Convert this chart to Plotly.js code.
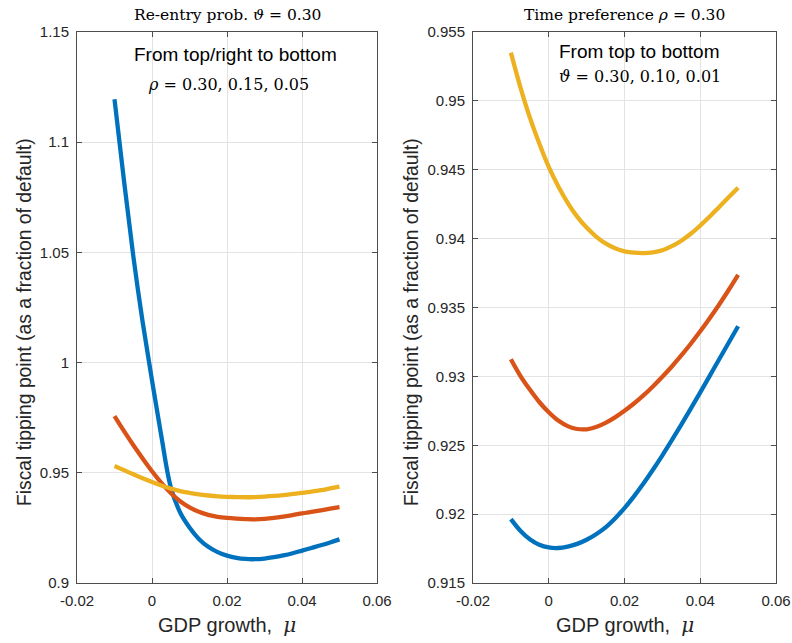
<!DOCTYPE html>
<html>
<head>
<meta charset="utf-8">
<script src="https://cdn.plot.ly/plotly-3.0.1.min.js"></script>
<style>html,body{margin:0;padding:0;background:#fff;}#chart{width:792px;height:643px;}</style>
</head>
<body>
<div id="chart"></div>
<script>
// ---- Data ----
const muGrid = [-0.01, -0.0075, -0.005, -0.0025, 0, 0.0025, 0.005, 0.0075, 0.01, 0.0125, 0.015, 0.0175, 0.02,
                0.0225, 0.025, 0.0275, 0.03, 0.0325, 0.035, 0.0375, 0.04, 0.0425, 0.045, 0.0475, 0.05];

// Left panel: re-entry prob. theta = 0.30, rho = 0.30 / 0.15 / 0.05
const leftBlue   = [1.1195, 1.083, 1.0485, 1.0185, 0.992, 0.9665, 0.9435, 0.932, 0.9252, 0.9200, 0.9164, 0.9140, 0.9124,
                    0.9114, 0.9109, 0.9108, 0.9111, 0.9117, 0.9125, 0.9135, 0.9147, 0.9159, 0.9171, 0.9184, 0.9198];
const leftRed    = [0.9757, 0.9690, 0.9626, 0.9565, 0.9507, 0.9454, 0.9408, 0.9371, 0.9343, 0.9323, 0.9309, 0.9300, 0.9295,
                    0.9292, 0.9290, 0.9289, 0.9291, 0.9295, 0.9301, 0.9308, 0.9316, 0.9323, 0.9330, 0.9337, 0.9344];
const leftYellow = [0.9531, 0.9512, 0.9493, 0.9475, 0.9458, 0.9442, 0.9428, 0.9417, 0.9409, 0.9402, 0.9397, 0.9393, 0.9391,
                    0.9390, 0.9389, 0.9390, 0.9392, 0.9395, 0.9399, 0.9404, 0.9409, 0.9415, 0.9421, 0.9429, 0.9437];

// Right panel: time preference rho = 0.30, theta = 0.30 / 0.10 / 0.01
const rightYellow = [0.9535, 0.9510, 0.9488, 0.9469, 0.9452, 0.9438, 0.9426, 0.9416, 0.9408, 0.94015, 0.93965, 0.9393, 0.93908,
                     0.93898, 0.93895, 0.9390, 0.93915, 0.93945, 0.93985, 0.94035, 0.94095, 0.9416, 0.9423, 0.9430, 0.9437];
const rightRed    = [0.93124, 0.93004, 0.92904, 0.92814, 0.92739, 0.92679, 0.92639, 0.92618, 0.92616, 0.92632, 0.92662, 0.92702, 0.9275,
                     0.92803, 0.92862, 0.92927, 0.92997, 0.93072, 0.93152, 0.93237, 0.93327, 0.93422, 0.93522, 0.93627, 0.93737];
const rightBlue   = [0.91964, 0.9188, 0.91818, 0.91778, 0.91758, 0.91754, 0.91764, 0.91784, 0.91814, 0.91854, 0.91904, 0.91969, 0.92044,
                     0.92129, 0.92222, 0.92322, 0.92427, 0.92537, 0.9265, 0.92766, 0.92884, 0.93004, 0.93124, 0.93244, 0.93364];

const xTickVals = [-0.02, 0, 0.02, 0.04, 0.06];
const xTickText = ['-0.02', '0', '0.02', '0.04', '0.06'];
const yLeftTickVals = [0.9, 0.95, 1, 1.05, 1.1, 1.15];
const yLeftTickText = ['0.9', '0.95', '1', '1.05', '1.1', '1.15'];
const yRightTickVals = [0.915, 0.92, 0.925, 0.93, 0.935, 0.94, 0.945, 0.95, 0.955];
const yRightTickText = ['0.915', '0.92', '0.925', '0.93', '0.935', '0.94', '0.945', '0.95', '0.955'];

// ---- Styling ----
const C_BLUE = '#0072BD', C_RED = '#D95319', C_YEL = '#EDB120';
const SANS = 'Liberation Sans, Arial, Helvetica, sans-serif';
const SERIF = 'DejaVu Serif, Liberation Serif, serif';
const W = 792, H = 643;
const px = v => v / W;
const py = v => 1 - v / H;

function line(x, y, color, xa, ya) {
  return {x: x, y: y, type: 'scatter', mode: 'lines', xaxis: xa, yaxis: ya,
          line: {color: color, width: 4.3, shape: 'spline', smoothing: 1}, hoverinfo: 'skip', showlegend: false};
}

const data = [
  line(muGrid, leftBlue, C_BLUE, 'x', 'y'),
  line(muGrid, leftRed, C_RED, 'x', 'y'),
  line(muGrid, leftYellow, C_YEL, 'x', 'y'),
  line(muGrid, rightBlue, C_BLUE, 'x2', 'y2'),
  line(muGrid, rightRed, C_RED, 'x2', 'y2'),
  line(muGrid, rightYellow, C_YEL, 'x2', 'y2')
];

const axisCommon = {
  showline: true, linecolor: '#4d4d4d', linewidth: 1, mirror: 'ticks',
  ticks: 'inside', ticklen: 5, tickwidth: 1, tickcolor: '#4d4d4d',
  showgrid: true, gridcolor: '#e3e3e3', gridwidth: 1, zeroline: false,
  tickfont: {family: SANS, size: 15, color: '#262626'}, fixedrange: true
};

const muText = 'GDP growth,&nbsp;&nbsp;<span style="font-family:DejaVu Serif, serif"><i>μ</i></span>';
const yTitle = 'Fiscal tipping point (as a fraction of default)';

const layout = {
  width: W, height: H,
  margin: {l: 0, r: 0, t: 0, b: 0},
  paper_bgcolor: '#ffffff', plot_bgcolor: '#ffffff',
  showlegend: false,
  xaxis: Object.assign({}, axisCommon, {domain: [px(77), px(377)], range: [-0.02, 0.06], tickmode: 'array', tickvals: xTickVals, ticktext: xTickText, anchor: 'y', ticklabelstandoff: 4}),
  yaxis: Object.assign({}, axisCommon, {domain: [py(583), py(32)], range: [0.9, 1.15], tickmode: 'array', tickvals: yLeftTickVals, ticktext: yLeftTickText, anchor: 'x', ticklabelstandoff: 4}),
  xaxis2: Object.assign({}, axisCommon, {domain: [px(473), px(776)], range: [-0.02, 0.06], tickmode: 'array', tickvals: xTickVals, ticktext: xTickText, anchor: 'y2', ticklabelstandoff: 4}),
  yaxis2: Object.assign({}, axisCommon, {domain: [py(583), py(32)], range: [0.915, 0.955], tickmode: 'array', tickvals: yRightTickVals, ticktext: yRightTickText, anchor: 'x2', ticklabelstandoff: 4}),
  annotations: [
    {text: 'Re-entry prob. <i>ϑ</i> = 0.30', x: px(227), y: py(15), xref: 'paper', yref: 'paper', showarrow: false, xanchor: 'center', yanchor: 'middle', font: {family: SERIF, size: 15.5, color: '#000'}},
    {text: 'Time preference <i>ρ</i> = 0.30', x: px(624.5), y: py(15), xref: 'paper', yref: 'paper', showarrow: false, xanchor: 'center', yanchor: 'middle', font: {family: SERIF, size: 15.5, color: '#000'}},
    {text: 'From top/right to bottom', x: px(235.5), y: py(54), xref: 'paper', yref: 'paper', showarrow: false, xanchor: 'center', yanchor: 'middle', font: {family: SANS, size: 19, color: '#000'}},
    {text: '<i>ρ</i> = 0.30, 0.15, 0.05', x: px(228.5), y: py(85), xref: 'paper', yref: 'paper', showarrow: false, xanchor: 'center', yanchor: 'middle', font: {family: SERIF, size: 16, color: '#000'}},
    {text: 'From top to bottom', x: px(557), y: py(52), xref: 'paper', yref: 'paper', showarrow: false, xanchor: 'left', yanchor: 'middle', font: {family: SANS, size: 19, color: '#000'}},
    {text: '<i>ϑ</i> = 0.30, 0.10, 0.01', x: px(557), y: py(77), xref: 'paper', yref: 'paper', showarrow: false, xanchor: 'left', yanchor: 'middle', font: {family: SERIF, size: 16, color: '#000'}},
    {text: muText, x: px(227), y: py(625), xref: 'paper', yref: 'paper', showarrow: false, xanchor: 'center', yanchor: 'middle', font: {family: SANS, size: 20, color: '#262626'}},
    {text: muText, x: px(624.5), y: py(625), xref: 'paper', yref: 'paper', showarrow: false, xanchor: 'center', yanchor: 'middle', font: {family: SANS, size: 20, color: '#262626'}},
    {text: yTitle, x: px(24), y: py(322), xref: 'paper', yref: 'paper', showarrow: false, textangle: -90, xanchor: 'center', yanchor: 'middle', font: {family: SANS, size: 19.3, color: '#262626'}},
    {text: yTitle, x: px(411), y: py(322), xref: 'paper', yref: 'paper', showarrow: false, textangle: -90, xanchor: 'center', yanchor: 'middle', font: {family: SANS, size: 19.3, color: '#262626'}}
  ]
};

Plotly.newPlot('chart', data, layout, {displayModeBar: false, staticPlot: true});
</script>
</body>
</html>
